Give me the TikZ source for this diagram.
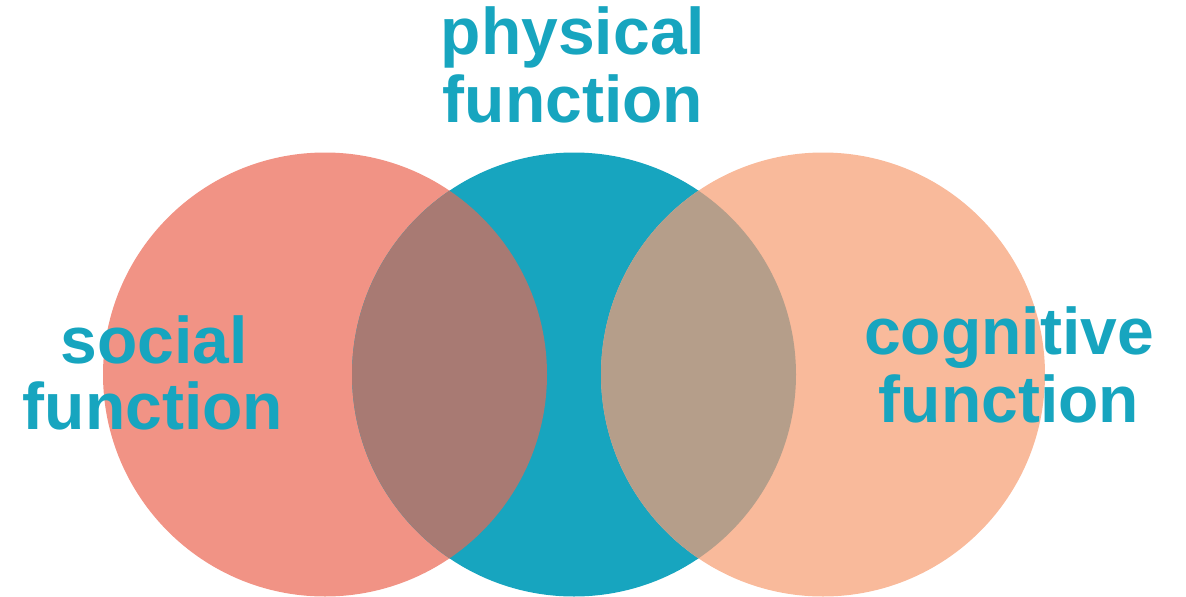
\documentclass[tikz,border=0pt]{standalone}
\usepackage{fontspec}
\setmainfont{Liberation Sans}
\definecolor{cred}{HTML}{F19385}
\definecolor{cblue}{HTML}{17A5BF}
\definecolor{cpeach}{HTML}{F9BA9B}
\definecolor{clm}{HTML}{A87A73}
\definecolor{cmr}{HTML}{B59E8A}
\begin{document}
\begin{tikzpicture}[x=1pt,y=-1pt,
  lbl/.style={anchor=base,inner sep=0pt,text=cblue,font=\fontsize{66}{68}\selectfont\bfseries}]
\useasboundingbox (0,0) rectangle (1186,597);
\fill[cred] (325,374.5) circle (222);
\fill[cblue] (574,374.5) circle (222);
\fill[cpeach] (823,374.5) circle (222);
\begin{scope}
\clip (325,374.5) circle (222);
\fill[clm] (574,374.5) circle (222);
\end{scope}
\begin{scope}
\clip (823,374.5) circle (222);
\fill[cmr] (574,374.5) circle (222);
\end{scope}
\node[lbl] (p1) at (573,54) {physical};
\node[lbl] (p2) at (573,122) {function};
\node[lbl] (s1) at (154,363) {social};
\node[lbl] (s2) at (153,429) {function};
\node[lbl] (c1) at (1009,354) {cognitive};
\node[lbl] (c2) at (1009,422) {function};
\end{tikzpicture}
\end{document}
